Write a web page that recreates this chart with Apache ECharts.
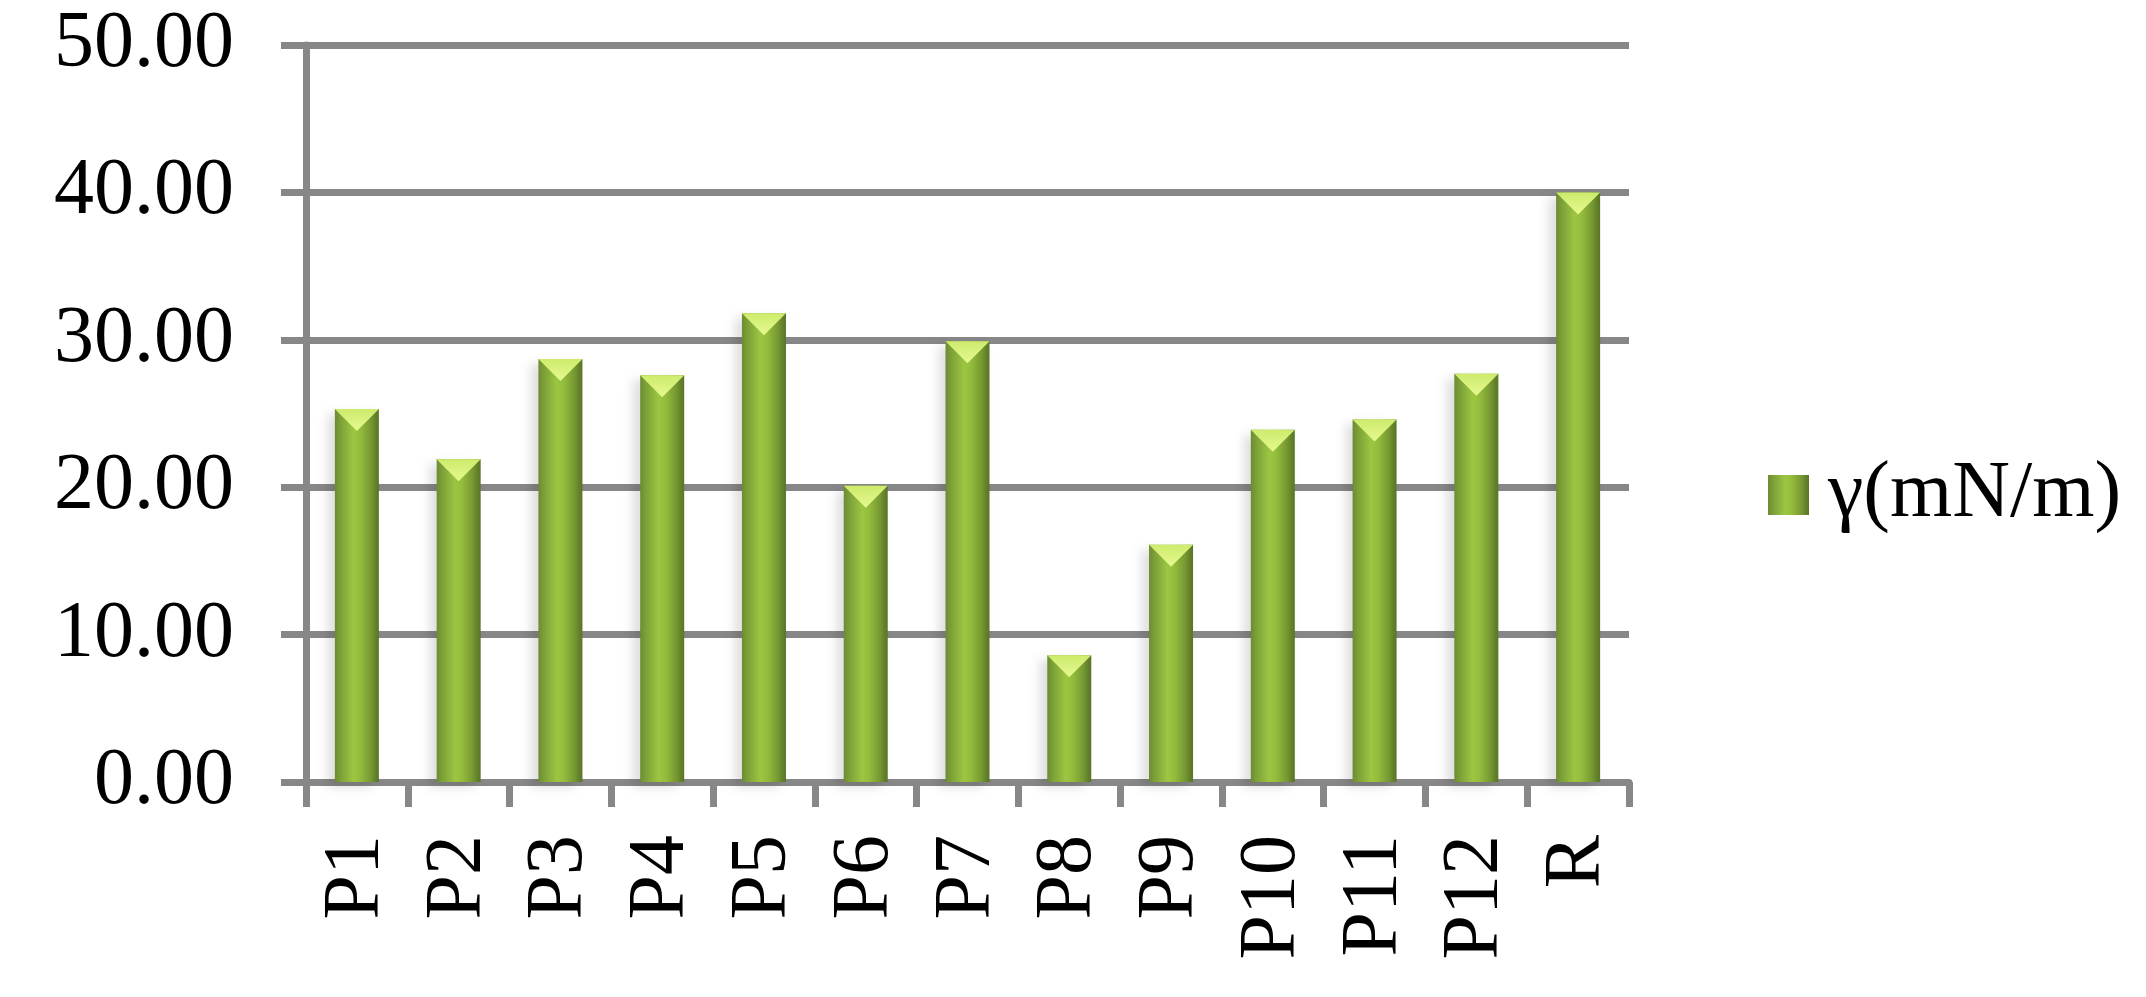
<!DOCTYPE html>
<html>
<head>
<meta charset="utf-8">
<script src="https://cdn.jsdelivr.net/npm/echarts@6/dist/echarts.min.js"></script>
<style>
html,body{margin:0;padding:0;background:#fff;}
#chart{width:2146px;height:997px;}
</style>
</head>
<body>
<div id="chart"></div>
<script>
var categories = ['P1','P2','P3','P4','P5','P6','P7','P8','P9','P10','P11','P12','R'];
var gammaValues = [25.3, 21.9, 28.7, 27.6, 31.8, 20.1, 29.9, 8.6, 16.1, 23.9, 24.6, 27.7, 40.0];
var yTicks = {min: 0, max: 50, interval: 10};
var seriesName = 'γ(mN/m)';

var FONT = '"Liberation Serif", "Times New Roman", serif';
var AXIS_COLOR = '#878787';

var barGradient = new echarts.graphic.LinearGradient(0, 0, 1, 0, [
  {offset: 0, color: '#6c8b32'},
  {offset: 0.12, color: '#7c9f37'},
  {offset: 0.42, color: '#9cc642'},
  {offset: 0.58, color: '#93bc3c'},
  {offset: 0.82, color: '#769832'},
  {offset: 0.93, color: '#62802a'},
  {offset: 1, color: '#5a7526'}
]);

var chart = echarts.init(document.getElementById('chart'), null, {renderer: 'canvas'});
chart.setOption({
  animation: false,
  backgroundColor: '#ffffff',
  grid: {left: 306, right: 517, top: 45, bottom: 215, containLabel: false},
  legend: {
    show: true,
    data: [{name: seriesName, icon: 'rect'}],
    left: 1763,
    top: 447,
    itemWidth: 41,
    itemHeight: 40,
    textStyle: {fontFamily: FONT, fontSize: 80, color: '#000', padding: [0, 0, 0, 14], lineHeight: 86}
  },
  xAxis: {
    type: 'category',
    data: categories,
    boundaryGap: true,
    axisLine: {show: true, lineStyle: {color: AXIS_COLOR, width: 7}},
    axisTick: {show: true, length: 25, alignWithLabel: false, lineStyle: {color: AXIS_COLOR, width: 7}},
    axisLabel: {rotate: 90, margin: 53, fontFamily: FONT, fontSize: 80, color: '#000', interval: 0}
  },
  yAxis: {
    type: 'value',
    min: yTicks.min,
    max: yTicks.max,
    interval: yTicks.interval,
    axisLine: {show: true, lineStyle: {color: AXIS_COLOR, width: 7}},
    axisTick: {show: true, length: 25, lineStyle: {color: AXIS_COLOR, width: 7}},
    splitLine: {show: true, lineStyle: {color: AXIS_COLOR, width: 7}},
    axisLabel: {
      margin: 72,
      fontFamily: FONT,
      fontSize: 80,
      color: '#000',
      formatter: function (v) { return v.toFixed(2); }
    }
  },
  series: [
    {
      name: seriesName,
      type: 'bar',
      data: gammaValues,
      barWidth: 44,
      itemStyle: {
        color: barGradient,
        shadowColor: 'rgba(0,0,0,0.13)',
        shadowBlur: 10,
        shadowOffsetX: -7,
        shadowOffsetY: 5
      },
      z: 3
    },
    {
      name: 'cap',
      type: 'scatter',
      data: gammaValues,
      symbol: 'triangle',
      symbolRotate: 180,
      symbolSize: [44, 22],
      symbolOffset: [0, '50%'],
      itemStyle: {
        color: new echarts.graphic.LinearGradient(0, 0, 0, 1, [
          {offset: 0, color: '#e6f990'},
          {offset: 1, color: '#cdeb6c'}
        ]),
        opacity: 1
      },
      silent: true,
      z: 4
    }
  ]
});
</script>
</body>
</html>
